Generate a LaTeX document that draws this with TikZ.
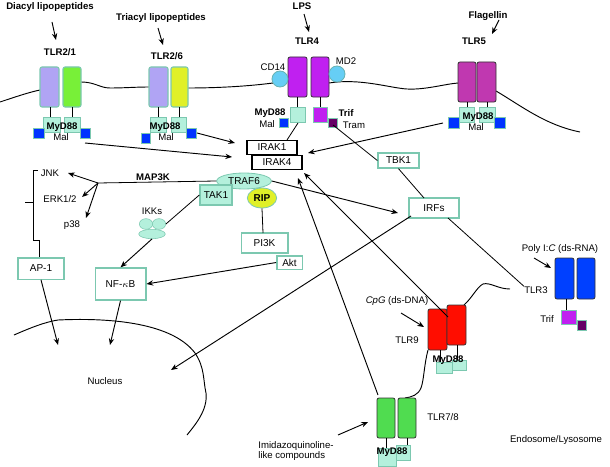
\documentclass[tikz,border=0pt]{standalone}
\usepackage{fontspec}
\setmainfont{Liberation Sans}
\usetikzlibrary{arrows.meta,shapes.geometric}
\definecolor{lav}{HTML}{B0A4F4}
\definecolor{grn}{HTML}{78F038}
\definecolor{ylw}{HTML}{E0F028}
\definecolor{mag4}{HTML}{C020F0}
\definecolor{mag5}{HTML}{C038B0}
\definecolor{grn78}{HTML}{50DC50}
\definecolor{tl}{HTML}{7CC8B0}
\definecolor{tlf}{HTML}{B4F0DC}
\begin{document}
\begin{tikzpicture}[x=0.75pt,y=-0.75pt,
  every node/.style={font=\fontsize{7.2}{8}\selectfont, inner sep=0pt},
  lbl/.style={font=\fontsize{7.2}{8}\selectfont\bfseries},
  box/.style={draw=tl, line width=1pt, fill=white, font=\fontsize{7.5}{8}\selectfont},
  kbox/.style={draw=black, line width=0.8pt, fill=white, font=\fontsize{7.5}{8}\selectfont},
  tlr/.style={draw=black!80, line width=0.6pt, rounded corners=1.5pt},
  tlrg/.style={draw=tl, line width=0.8pt, rounded corners=1.5pt},
  sq/.style={draw=tl, line width=0.6pt, fill=tlf},
  bsq/.style={draw=tl, line width=0.6pt, fill=blue!80!cyan},
  psq/.style={draw=tl, line width=0.6pt, fill=violet!80!black},
  msq/.style={draw=tl, line width=0.6pt, fill=mag4},
  ar/.style={-{Stealth[length=5pt,width=4pt]}, line width=0.7pt},
  ln/.style={line width=0.6pt},
  mem/.style={line width=0.7pt}]
\useasboundingbox (0,0) rectangle (610,467);
% plasma membrane
\draw[mem] (0,102) .. controls (15,97) and (30,92) .. (40,90);
\draw[mem] (81,82) .. controls (95,82) and (100,88) .. (110,88) .. controls (125,88) and (135,87) .. (149,87);
\draw[mem] (188,88) .. controls (220,88) and (250,86) .. (273,83);
\draw[mem] (329,83) .. controls (360,78) and (390,88) .. (407,89) .. controls (425,90) and (445,84) .. (458,83);
\draw[mem] (496,91) .. controls (520,105) and (545,125) .. (580,132);
% ligands
\node[lbl] (diacyl) at (50,7) {Diacyl lipopeptides};
\node[lbl] (triacyl) at (161,18) {Triacyl lipopeptides};
\node[lbl] (lps) at (302,6) {LPS};
\node[lbl] (flag) at (488,16) {Flagellin};
\node[lbl] (tlr21) at (60,52) {TLR2/1};
\node[lbl] (tlr26) at (167,56) {TLR2/6};
\node[lbl] (tlr4) at (307,41) {TLR4};
\node[lbl] (tlr5) at (474,41) {TLR5};
\draw[ar] (52,22) -- (56,40);
\draw[ar] (158,28) -- (163,45);
\draw[ar] (304,14) -- (309,32);
\draw[ar] (499,20) -- (492,34);
% TLR2/1
\draw[tlrg, fill=lav] (40,67) rectangle (59,107);
\draw[tlrg, fill=grn] (63,67) rectangle (81,107);
\draw[ln] (50,107) -- (50,117) (72,107) -- (72,117);
\draw[sq] (43,117) rectangle (60,132);
\draw[sq] (64,117) rectangle (80,132);
\draw[bsq] (33,128) rectangle (44,138);
\draw[bsq] (80,128) rectangle (90,138);
\node[lbl] (m21) at (62,127) {MyD88};
\node (mal21) at (61,137) {Mal};
% TLR2/6
\draw[tlrg, fill=lav] (149,67) rectangle (168,107);
\draw[tlrg, fill=ylw] (171,67) rectangle (188,107);
\draw[ln] (158,107) -- (158,117) (179,107) -- (179,117);
\draw[sq] (150,117) rectangle (166,132);
\draw[sq] (171,117) rectangle (186,132);
\draw[bsq] (141,133) rectangle (150,143);
\draw[bsq] (186,128) rectangle (196,138);
\node[lbl] (m26) at (165,127) {MyD88};
\node (mal26) at (166,137) {Mal};
% TLR4
\draw[tlr, fill=mag4] (288,57) rectangle (307,97);
\draw[tlr, fill=mag4] (311,57) rectangle (329,97);
\draw[teal!60, fill=cyan!60, line width=0.6pt] (280,79) circle (8);
\draw[teal!60, fill=cyan!60, line width=0.6pt] (337,74) circle (8);
\node (cd14) at (273,67) {CD14};
\node (md2) at (346,61) {MD2};
\draw[ln] (297,97) -- (297,107) (320,97) -- (320,107);
\draw[sq] (290,107) rectangle (305,122);
\draw[msq] (313,107) rectangle (327,122);
\draw[psq] (328,118) rectangle (337,127);
\draw[bsq] (279,118) rectangle (288,127);
\node[lbl] (m4) at (270,113) {MyD88};
\node (mal4) at (267,124) {Mal};
\node[lbl] (trif4) at (346,113) {Trif};
\node (tram) at (354,125) {Tram};
\coordinate (tramsq) at (333,125);
\coordinate (my4) at (298,123);
% TLR5
\draw[tlr, fill=mag5] (458,62) rectangle (476,102);
\draw[tlr, fill=mag5] (477,62) rectangle (496,102);
\draw[ln] (467,102) -- (467,107) (487,102) -- (487,107);
\draw[sq] (459,107) rectangle (474,122);
\draw[sq] (479,107) rectangle (495,122);
\draw[bsq] (448,117) rectangle (459,128);
\draw[bsq] (494,117) rectangle (505,128);
\node[lbl] (m5) at (478,117) {MyD88};
\node (mal5) at (476,127) {Mal};
% IRAK
\node[kbox, minimum width=37.5pt, minimum height=11pt] (irak1) at (272,147.5) {IRAK1};
\node[kbox, minimum width=37.5pt, minimum height=11pt] (irak4) at (277,162.5) {IRAK4};
\coordinate (c21) at (85,143);
\coordinate (c26) at (197,133);
\coordinate (c5) at (443,123);
\draw[ar] (c21) -- (232,157);
\draw[ar] (c26) -- (235,143);
\draw[ar] (c5) -- (308,153);
\draw[ln] (my4) -- (287,140);
% TBK1, IRFs
\node[box, minimum width=30.75pt, minimum height=11.25pt] (tbk1) at (398.5,160.5) {TBK1};
\node[box, minimum width=37.5pt, minimum height=15pt] (irfs) at (434,208) {IRFs};
\draw[ln] (tramsq) -- (tbk1.west);
\draw[ln] (tbk1.south) -- (424,198);
% TRAF6 etc
\node[ellipse, draw=tl, fill=tlf, line width=0.6pt, minimum width=41pt, minimum height=12pt, font=\fontsize{7.5}{8}\selectfont] (traf6) at (244,181) {TRAF6};
\node[box, fill=tlf, minimum width=24pt, minimum height=15pt] (tak1) at (216,195) {TAK1};
\node[ellipse, draw=tl, fill=ylw, line width=0.6pt, minimum width=22pt, minimum height=15pt, font=\fontsize{7.5}{8}\selectfont\bfseries] (rip) at (262,198) {RIP};
\draw[ar] (traf6.east) -- (398,213);
\node[lbl] (map3k) at (153,177) {MAP3K};
\coordinate (hub) at (98,183);
\draw[ln] (traf6.west) -- (hub);
\node (jnk) at (50,173) {JNK};
\node (erk) at (60,199) {ERK1/2};
\node (p38) at (72,225) {p38};
\draw[ar] (hub) -- (68,173);
\draw[ar] (hub) -- (82,197);
\draw[ar] (hub) -- (86,218);
\draw[ln] (38,170) -- (33,170) -- (33,202) -- (25,202) (33,202) -- (33,240) -- (39,240) -- (39,258);
% IKKs
\node (ikks) at (152,211) {IKKs};
\node[ellipse, draw=tl, fill=tlf, minimum width=10pt, minimum height=8pt] (ikk1) at (146,224) {};
\node[ellipse, draw=tl, fill=tlf, minimum width=10pt, minimum height=8pt] (ikk2) at (159,224) {};
\node[ellipse, draw=tl, fill=tlf, minimum width=20pt, minimum height=7pt] (ikk3) at (152,234) {};
\draw[ln] (tak1.west) -- (ikk2.east);
% PI3K, Akt, NF-kB, AP-1
\node[box, minimum width=35pt, minimum height=15pt] (pi3k) at (264.5,243) {PI3K};
\node[box, minimum width=19pt, minimum height=10pt] (akt) at (289.5,262.5) {Akt};
\draw[ln] (rip.south) -- (263,233);
\node[box, minimum width=38pt, minimum height=24pt] (nfkb) at (120.5,284) {NF-$\kappa$B};
\node[box, minimum width=34.5pt, minimum height=16pt] (ap1) at (41,268.5) {AP-1};
\draw[ar] (ikk3.south) -- (nfkb.north);
\draw[ar] (akt.west) -- (nfkb.east);
\coordinate (nuc1) at (58,345);
\coordinate (nuc2) at (110,345);
\coordinate (nuc3) at (171,370);
\draw[ar] (ap1.south) -- (nuc1);
\draw[ar] (nfkb.south) -- (nuc2);
\draw[ar] (411,216) -- (nuc3);
% nucleus
\draw[mem] (14,335) .. controls (30,328) and (45,322) .. (58,320) .. controls (100,318) and (170,320) .. (195,353) .. controls (205,368) and (203,380) .. (206,393) .. controls (208,410) and (195,425) .. (187,435);
\node (nucleus) at (105,381) {Nucleus};
% endosome
\draw[mem] (510,289) .. controls (498,289) and (490,282) .. (483,284) .. controls (477,287) and (472,298) .. (464,305);
\draw[mem] (428,350) .. controls (424,365) and (424,380) .. (421,388) .. controls (418,395) and (412,397) .. (405,398);
% TLR3
\draw[tlr, fill=blue!75!cyan] (555,258) rectangle (574,299);
\draw[tlr, fill=blue!75!cyan] (577,258) rectangle (595,299);
\draw[ln] (566,299) -- (566,310);
\draw[msq] (561,310) rectangle (576,324);
\draw[psq] (577,320) rectangle (586,330);
\node (tlr3) at (536,290) {TLR3};
\node (trif3) at (547,319) {Trif};
\node (poly) at (560,249) {Poly I:\textit{C} (ds-RNA)};
\draw[ar] (534,258) -- (551,268);
\draw[ln] (448,218) -- (tlr3.north west);
% TLR9
\draw[tlr, fill=red!90!orange] (428,309) rectangle (447,350);
\draw[tlr, fill=red!90!orange] (447,305) rectangle (466,345);
\draw[ln] (440,350) -- (440,362) (457,345) -- (457,360);
\draw[sq] (436,362) rectangle (452,373);
\draw[sq] (452,360) rectangle (466,370);
\node[lbl] (m9) at (448,360) {MyD88};
\node (tlr9) at (407,340) {TLR9};
\node (cpg) at (397,301) {\textit{CpG} (ds-DNA)};
\draw[ar] (401,313) -- (424,327);
\draw[ar] (448,317) -- (304,173);
% TLR7/8
\draw[tlr, fill=grn78] (377,398) rectangle (395,438);
\draw[tlr, fill=grn78] (398,398) rectangle (416,438);
\draw[ln] (386,438) -- (386,448) (407,438) -- (407,446);
\draw[sq] (378,448) rectangle (396,466);
\draw[sq] (396,445) rectangle (410,460);
\node[lbl] (m78) at (392,452) {MyD88};
\node (tlr78) at (443,417) {TLR7/8};
\node[align=left] (imid) at (296,451) {Imidazoquinoline-\\like compounds};
\draw[ar] (338,435) -- (368,422);
\draw[ar] (378,395) -- (298,178);
\node (endo) at (556,440) {Endosome/Lysosome};
\end{tikzpicture}
\end{document}
